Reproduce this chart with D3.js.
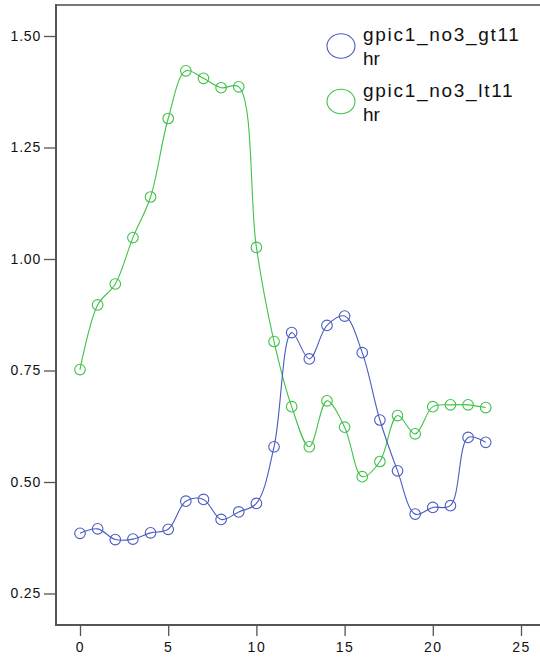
<!DOCTYPE html>
<html>
<head>
<meta charset="utf-8">
<script src="https://cdn.jsdelivr.net/npm/d3@7"></script>
<style>
  html, body { margin: 0; padding: 0; background: #fff; }
  svg { display: block; }
  text { font-family: "Liberation Sans", Arial, sans-serif; fill: #111; }
</style>
</head>
<body>
<svg id="chart" width="540" height="657"></svg>
<script>
// Hour index (0–23)
const hours = d3.range(0, 24);

// Series values per hour
const gt11hr = [0.385, 0.395, 0.371, 0.372, 0.386, 0.394, 0.457, 0.461, 0.416, 0.433,
                0.452, 0.579, 0.835, 0.776, 0.851, 0.872, 0.790, 0.639, 0.525, 0.428,
                0.443, 0.447, 0.600, 0.589];
const lt11hr = [0.752, 0.897, 0.944, 1.048, 1.139, 1.315, 1.422, 1.405, 1.384, 1.386,
                1.026, 0.815, 0.669, 0.579, 0.682, 0.623, 0.512, 0.546, 0.649, 0.608,
                0.669, 0.673, 0.673, 0.667];

const seriesNames = ["gpic1_no3_gt11 hr", "gpic1_no3_lt11 hr"];
const seriesColors = ["#4a5cc2", "#3fc24a"];

const xTicks = [0, 5, 10, 15, 20, 25];
const yTicks = [0.25, 0.50, 0.75, 1.00, 1.25, 1.50];

const svg = d3.select("#chart");
const plotLeft = 56, plotRight = 540, plotTop = 5, plotBottom = 625;

const x = d3.scaleLinear().domain([-1.3605, 26.077]).range([plotLeft, plotRight]);
const y = d3.scaleLinear().domain([0.1794, 1.5695]).range([plotBottom, plotTop]);

const axisColor = "#555";

// Frame: top border
svg.append("line")
  .attr("x1", plotLeft).attr("x2", plotRight).attr("y1", plotTop).attr("y2", plotTop)
  .attr("stroke", "#777").attr("stroke-width", 2);

// Y axis
const yAxis = svg.append("g")
  .attr("transform", `translate(${plotLeft},0)`)
  .call(d3.axisLeft(y).tickValues(yTicks).tickFormat(d3.format(".2f")).tickSize(12).tickSizeOuter(0).tickPadding(3));
yAxis.select(".domain").remove();
yAxis.selectAll(".tick line").attr("stroke", axisColor).attr("stroke-width", 1.3);
yAxis.selectAll(".tick text")
  .attr("font-size", 14).attr("letter-spacing", "0.8px")
  .attr("font-family", "'Liberation Sans', Arial, sans-serif").attr("fill", "#111");

// X axis
const xAxis = svg.append("g")
  .attr("transform", `translate(0,${plotBottom})`)
  .call(d3.axisBottom(x).tickValues(xTicks).tickFormat(d3.format("d")).tickSize(11).tickSizeOuter(0).tickPadding(6));
xAxis.select(".domain").remove();
xAxis.selectAll(".tick line").attr("stroke", axisColor).attr("stroke-width", 1.3);
xAxis.selectAll(".tick text")
  .attr("font-size", 14).attr("letter-spacing", "1.5px")
  .attr("font-family", "'Liberation Sans', Arial, sans-serif").attr("fill", "#111");

// Axis lines
svg.append("line")
  .attr("x1", plotLeft).attr("x2", plotLeft).attr("y1", plotTop - 1).attr("y2", plotBottom + 1)
  .attr("stroke", axisColor).attr("stroke-width", 2);
svg.append("line")
  .attr("x1", plotLeft).attr("x2", plotRight).attr("y1", plotBottom).attr("y2", plotBottom)
  .attr("stroke", axisColor).attr("stroke-width", 2);

// Series: smoothed line + hollow circle markers
const series = [gt11hr, lt11hr];
const line = d3.line()
  .x((d, i) => x(hours[i]))
  .y(d => y(d))
  .curve(d3.curveCatmullRom.alpha(0.5));

// Draw lt11 first so gt11 sits on top where they cross
[1, 0].forEach(k => {
  const vals = series[k];
  const g = svg.append("g");
  g.append("path")
    .datum(vals)
    .attr("d", line)
    .attr("fill", "none")
    .attr("stroke", seriesColors[k])
    .attr("stroke-width", 1.1);
  g.selectAll("circle")
    .data(vals)
    .join("circle")
    .attr("cx", (d, i) => x(hours[i]))
    .attr("cy", d => y(d))
    .attr("r", 5.3)
    .attr("fill", "none")
    .attr("stroke", seriesColors[k])
    .attr("stroke-width", 1.1);
});

// Legend
const legendY = [46, 101.5];
seriesNames.forEach((name, k) => {
  const g = svg.append("g");
  g.append("ellipse")
    .attr("cx", 341).attr("cy", legendY[k])
    .attr("rx", 14).attr("ry", 12.3)
    .attr("fill", "none")
    .attr("stroke", seriesColors[k])
    .attr("stroke-width", 1.1);
  const parts = name.split(" ");
  const t = g.append("text")
    .attr("x", 363)
    .attr("y", legendY[k] - 5)
    .attr("font-size", 19)
    .attr("letter-spacing", "1.7px");
  t.append("tspan").attr("x", 363).text(parts[0]);
  t.append("tspan").attr("x", 363).attr("dy", 24).attr("letter-spacing", "0px").text(parts[1]);
});
</script>
</body>
</html>
